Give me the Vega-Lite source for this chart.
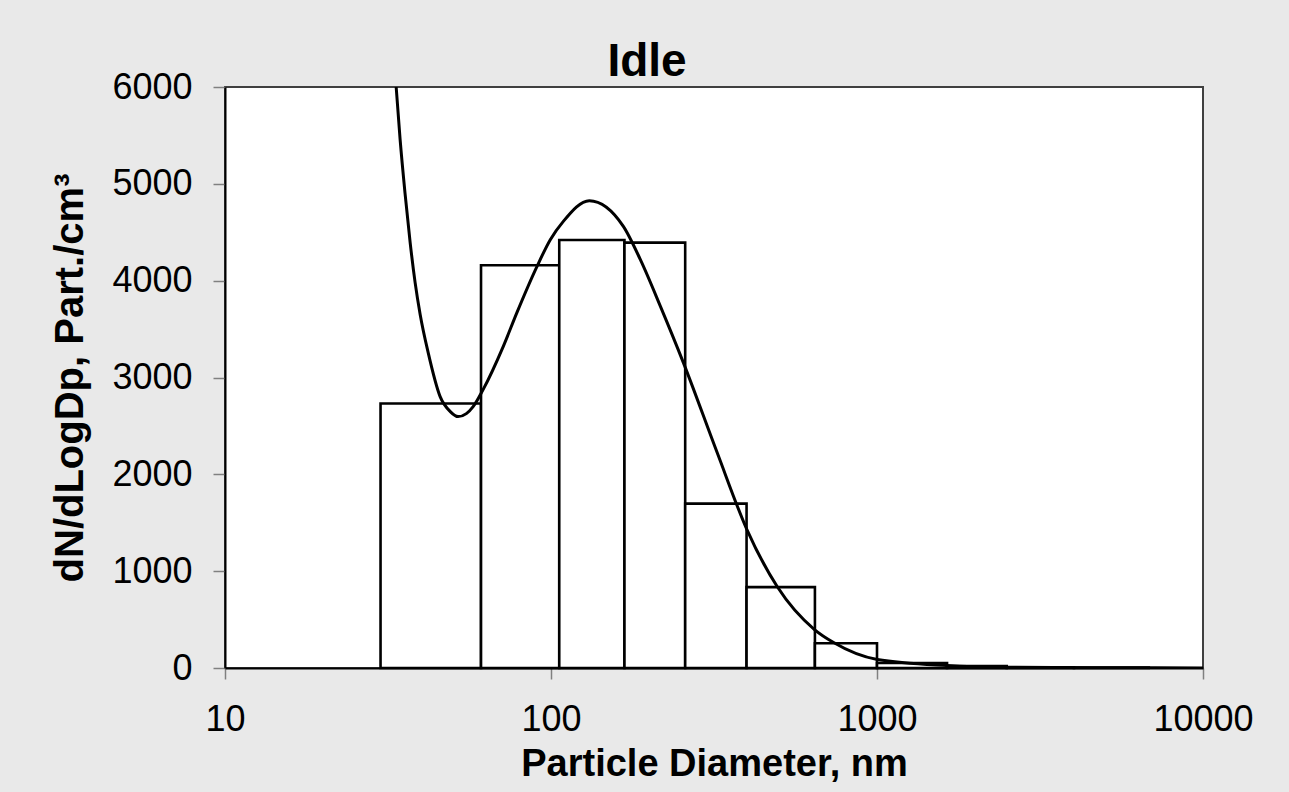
{
  "$schema": "https://vega.github.io/schema/vega-lite/v6.json",
  "width": 978,
  "height": 581,
  "autosize": "none",
  "padding": {"left": 225, "top": 87, "right": 86, "bottom": 124},
  "background": "#e9e9e9",
  "title": {
    "text": "Idle",
    "font": "Liberation Sans",
    "fontSize": 46,
    "fontWeight": "bold",
    "color": "black",
    "anchor": "middle",
    "frame": "group",
    "dx": -67,
    "baseline": "alphabetic",
    "offset": -53
  },
  "config": {
    "view": {"fill": "white", "stroke": "#404040", "strokeWidth": 2},
    "axis": {
      "labelFont": "Liberation Sans",
      "labelFontSize": 36,
      "labelColor": "black",
      "titleFont": "Liberation Sans",
      "titleFontSize": 38,
      "titleFontWeight": "bold",
      "titleColor": "black",
      "tickColor": "#808080",
      "tickWidth": 1.5,
      "tickSize": 12,
      "domainColor": "black",
      "domainWidth": 2,
      "grid": false,
      "labelFlush": false,
      "labelOverlap": false
    }
  },
  "datasets": {
    "bins": [
      {"lo": 30, "hi": 61, "n": 2731},
      {"lo": 61, "hi": 106, "n": 4159},
      {"lo": 106, "hi": 168, "n": 4420},
      {"lo": 168, "hi": 258, "n": 4393},
      {"lo": 258, "hi": 398, "n": 1697},
      {"lo": 398, "hi": 645, "n": 835},
      {"lo": 645, "hi": 1000, "n": 256},
      {"lo": 1000, "hi": 1640, "n": 52},
      {"lo": 1640, "hi": 2500, "n": 20},
      {"lo": 2500, "hi": 4020, "n": 8},
      {"lo": 4020, "hi": 6820, "n": 5}
    ],
    "curve": [
      {"d": 33.5, "n": 6000},
      {"d": 34.45, "n": 5456},
      {"d": 35.7, "n": 4888},
      {"d": 36.98, "n": 4393},
      {"d": 38.3, "n": 3980},
      {"d": 39.7, "n": 3649},
      {"d": 42.0, "n": 3257},
      {"d": 45.7, "n": 2803},
      {"d": 49.1, "n": 2648},
      {"d": 51.9, "n": 2596},
      {"d": 55.0, "n": 2627},
      {"d": 57.7, "n": 2699},
      {"d": 61.9, "n": 2875},
      {"d": 71.4, "n": 3322},
      {"d": 78.6, "n": 3670},
      {"d": 90.6, "n": 4148},
      {"d": 99.5, "n": 4423},
      {"d": 109.1, "n": 4612},
      {"d": 131.1, "n": 4826},
      {"d": 166.7, "n": 4561},
      {"d": 188, "n": 4217},
      {"d": 216.6, "n": 3735},
      {"d": 254.7, "n": 3154},
      {"d": 323.3, "n": 2225},
      {"d": 399, "n": 1430},
      {"d": 494, "n": 841},
      {"d": 643, "n": 397},
      {"d": 736, "n": 263},
      {"d": 1002, "n": 88},
      {"d": 1637, "n": 26},
      {"d": 2500, "n": 8},
      {"d": 4858, "n": 3},
      {"d": 10000, "n": 1}
    ]
  },
  "layer": [
    {
      "data": {"name": "bins"},
      "mark": {"type": "rect", "fill": "white", "stroke": "black", "strokeWidth": 2.6},
      "encoding": {
        "x": {
          "field": "lo",
          "type": "quantitative",
          "scale": {"type": "log", "domain": [10, 10000], "nice": false},
          "axis": {
            "values": [10, 100, 1000, 10000],
            "format": "d",
            "labelPadding": 23,
            "titlePadding": 8,
            "tickSize": 11
          },
          "title": "Particle Diameter, nm"
        },
        "x2": {"field": "hi"},
        "y": {
          "field": "n",
          "type": "quantitative",
          "scale": {"domain": [0, 6000], "nice": false, "zero": true},
          "axis": {
            "values": [0, 1000, 2000, 3000, 4000, 5000, 6000],
            "format": "d",
            "labelPadding": 21,
            "titlePadding": 21,
            "titleFontSize": 40
          },
          "title": "dN/dLogDp, Part./cm³"
        },
        "y2": {"datum": 0}
      }
    },
    {
      "data": {"name": "curve"},
      "mark": {"type": "line", "color": "black", "strokeWidth": 3, "interpolate": "monotone", "clip": true},
      "encoding": {
        "x": {"field": "d", "type": "quantitative", "title": "Particle Diameter, nm"},
        "y": {"field": "n", "type": "quantitative", "title": "dN/dLogDp, Part./cm³"}
      }
    }
  ]
}
